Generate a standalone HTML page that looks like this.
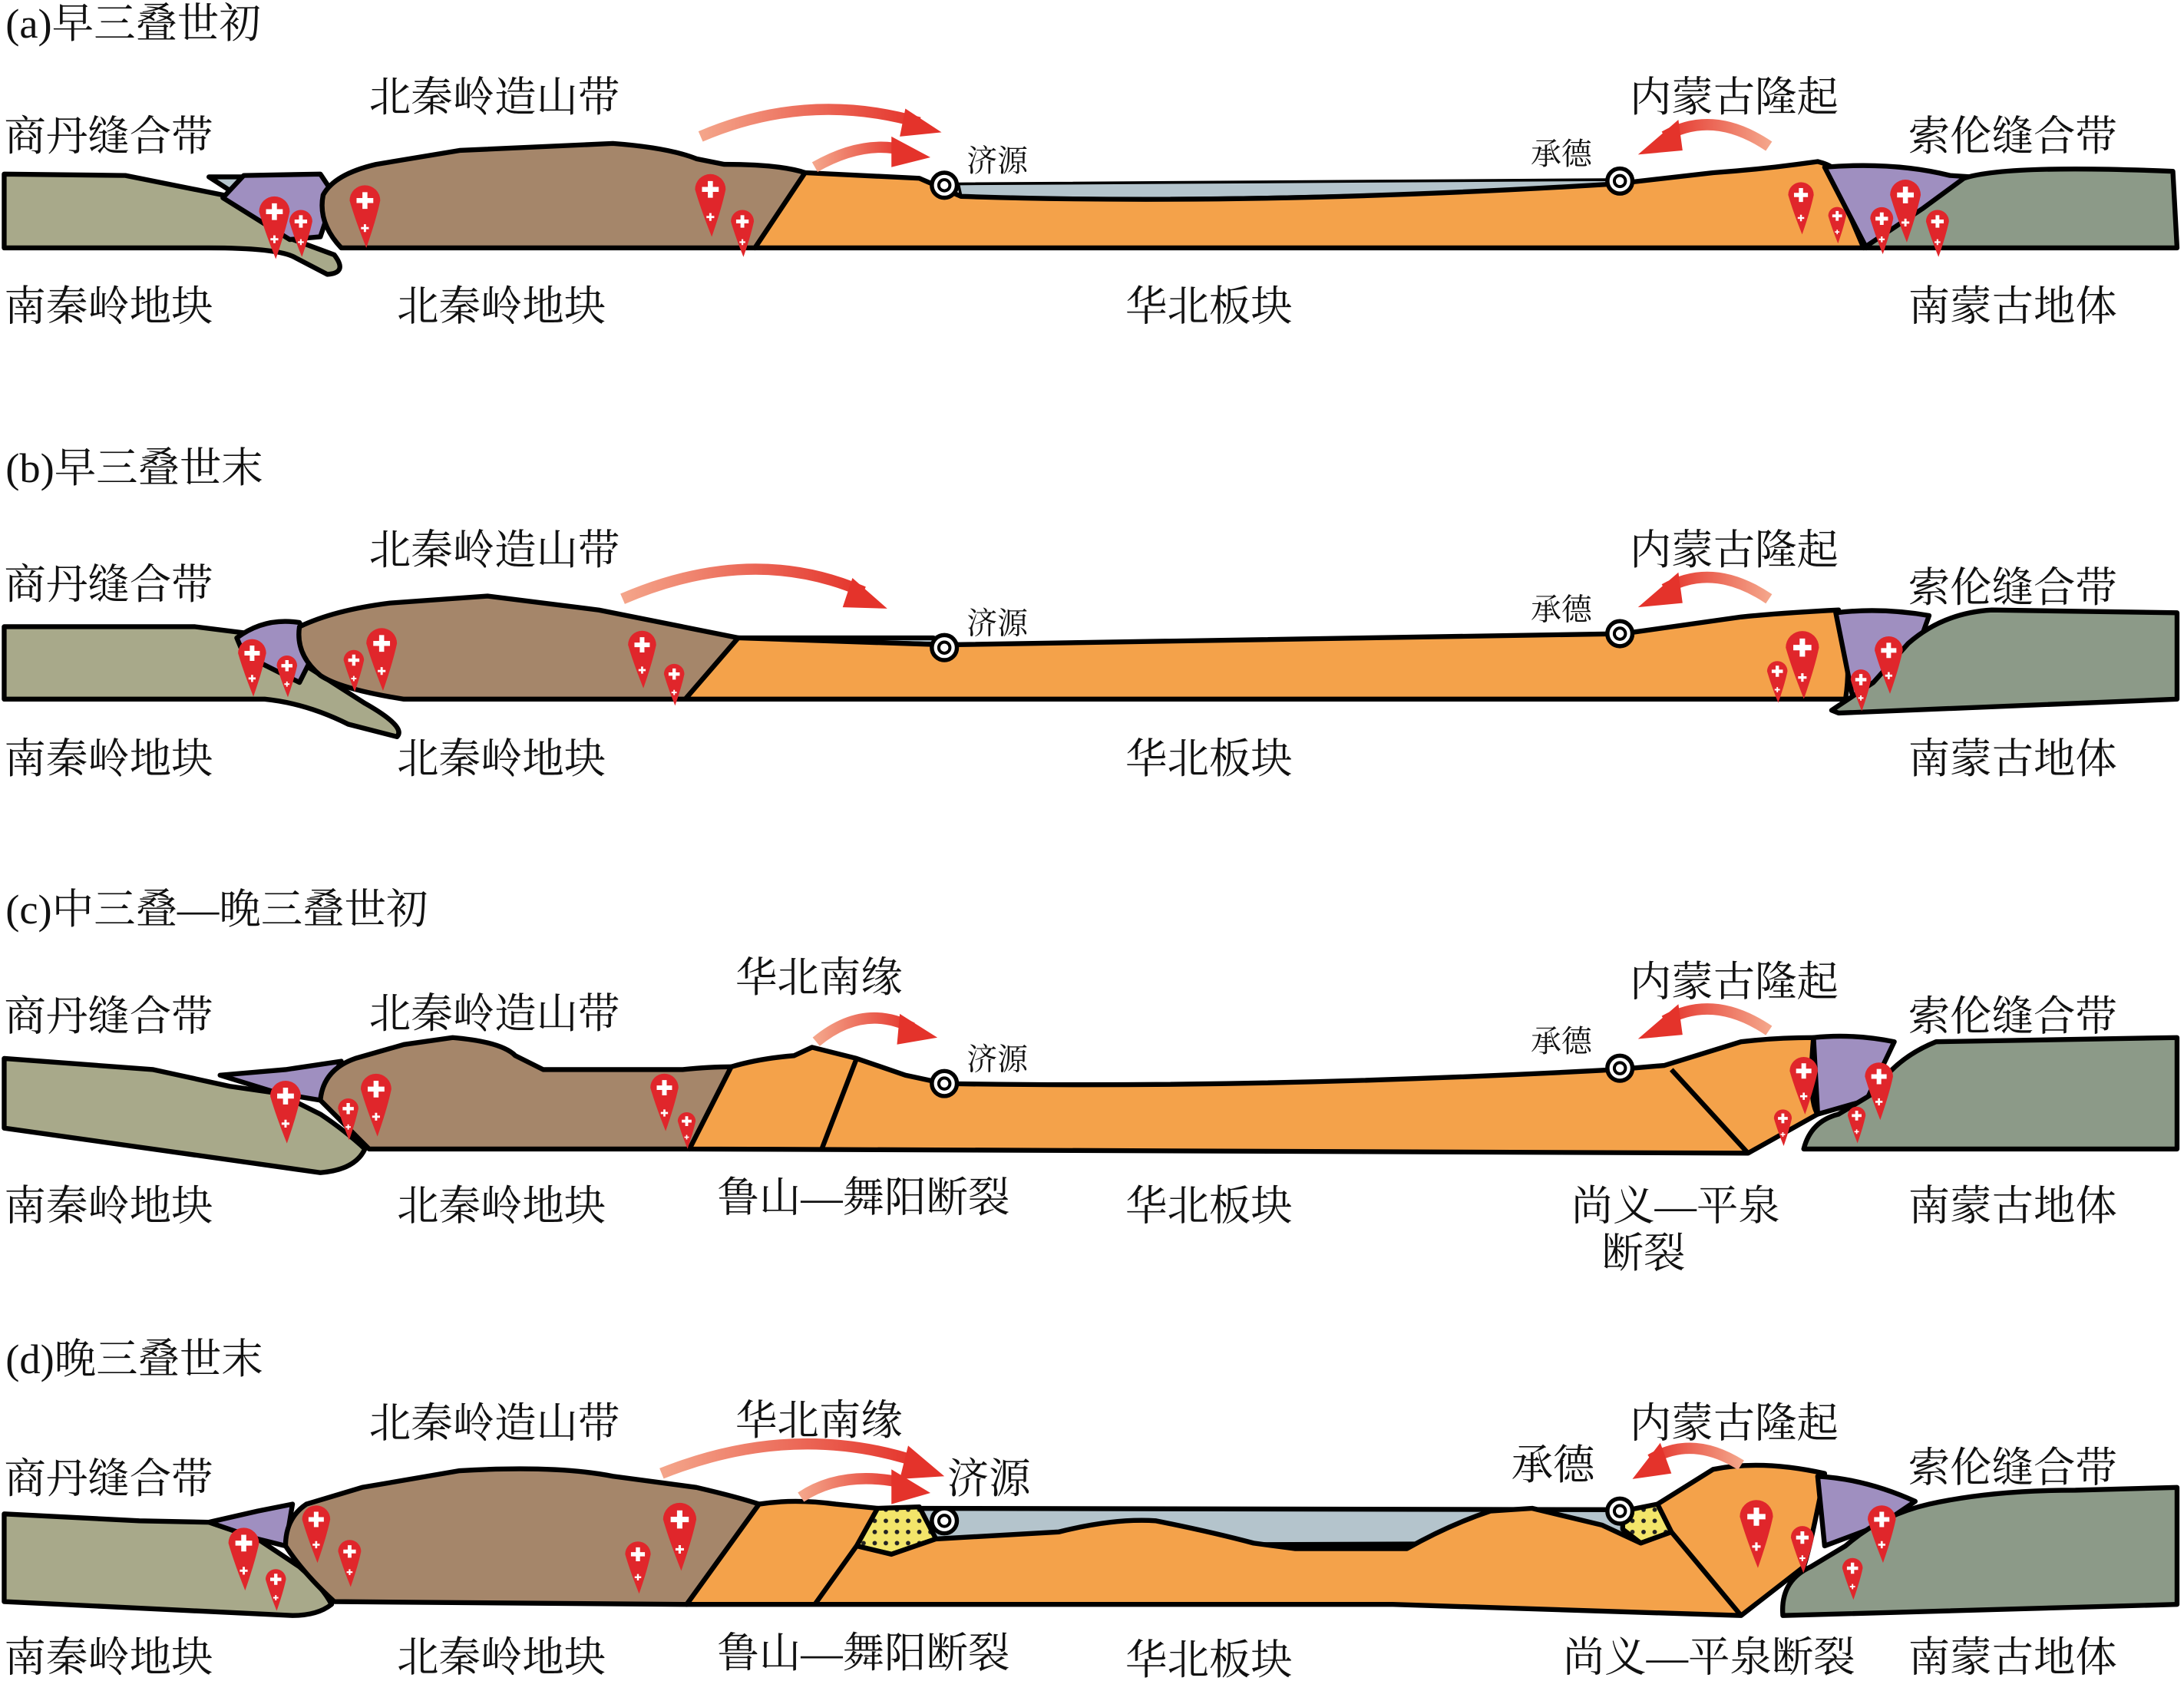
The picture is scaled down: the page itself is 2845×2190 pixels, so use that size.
<!DOCTYPE html>
<html><head><meta charset="utf-8"><style>
html,body{margin:0;padding:0;background:#fff}
svg{display:block}
text{font-family:"Liberation Serif","Noto Serif CJK SC","Noto Sans CJK SC",serif;fill:#111}
.L{font-size:30px}.S{font-size:22px}.T{font-size:30px}
.k{stroke:#000;stroke-width:3.5;stroke-linejoin:round}
</style></head><body>
<svg width="2845" height="2190" viewBox="0 0 1568 1207" preserveAspectRatio="none" xmlns="http://www.w3.org/2000/svg">
<defs>
<symbol id="dp" viewBox="-12 -12 24 48" overflow="visible">
<path d="M-11,0 A11,11 0 1 1 11,0 Q8,14 1,34 Q-7,14 -11,0Z" fill="#e0262b"/>
<path d="M-1.8,-6h3.6v4.2h4.2v3.6h-4.2v4.2h-3.6v-4.2h-4.2v-3.6h4.2z" fill="#fff"/>
<path d="M-0.8,17h1.6v2h2v1.6h-2v2h-1.6v-2h-2v-1.6h2z" fill="#fff"/>
</symbol>
<linearGradient id="ag" x1="0" x2="1"><stop offset="0" stop-color="#f4a58a"/><stop offset="1" stop-color="#e4332b"/></linearGradient>
<linearGradient id="agr" x1="1" x2="0"><stop offset="0" stop-color="#f4a58a"/><stop offset="1" stop-color="#e4332b"/></linearGradient>
<pattern id="yp" width="8" height="8" patternUnits="userSpaceOnUse"><rect width="8" height="8" fill="#f3e56a"/><circle cx="4" cy="4" r="1.6" fill="#222"/></pattern>
<g id="tgt"><circle r="9" fill="#fff" stroke="#000" stroke-width="3"/><circle r="4" fill="none" stroke="#000" stroke-width="2.2"/></g>
</defs>

<!-- ================= PANEL A ================= -->
<text x="4" y="27" class="T">(a)早三叠世初</text>
<path class="k" fill="#b4c4cc" d="M150,127 L180,127 L170,140 Z"/>
<path class="k" fill="#a8a98a" d="M3,125 L90,126 L170,142 L190,152 L205,170 L240,183 Q250,196 235,197 L212,185 Q200,178 150,178 L3,178 Z"/>
<path class="k" fill="#9f8fc0" d="M160,142 L175,126 L230,125 L240,140 L230,170 L208,172 Z"/>
<path class="k" fill="#a5866a" d="M232,140 Q240,125 270,118 L330,108 L440,103 Q480,106 500,114 L520,118 Q560,118 578,124 L542,178 L245,178 Q228,160 232,140Z"/>
<path fill="#b4c4cc" stroke="#000" stroke-width="2" d="M688,132 L1155,129 L1155,133 Q900,146 690,141 Z"/>
<path class="k" fill="#f4a24a" d="M578,124 L660,128 L690,141 Q900,148 1160,132 L1230,124 Q1260,122 1290,118 L1305,116 Q1320,120 1315,124 L1338,178 L542,178 Z"/>
<path class="k" fill="#9f8fc0" d="M1310,120 Q1360,116 1400,126 L1415,127 L1360,170 L1340,178 Z"/>
<path class="k" fill="#8c9a88" d="M1338,178 L1380,150 L1410,128 Q1440,118 1560,123 L1563,178 Z"/>
<use href="#tgt" x="678" y="133"/><use href="#tgt" x="1163" y="130"/>
<use href="#dp" x="185" y="140" width="24" height="48"/>
<use href="#dp" x="207" y="150" width="18" height="36"/>
<use href="#dp" x="250" y="132" width="24" height="48"/>
<use href="#dp" x="498" y="124" width="24" height="48"/>
<use href="#dp" x="524" y="150" width="18" height="36"/>
<use href="#dp" x="1283" y="130" width="20" height="40"/>
<use href="#dp" x="1312" y="148" width="14" height="28"/>
<use href="#dp" x="1356" y="128" width="24" height="48"/>
<use href="#dp" x="1342" y="148" width="18" height="36"/>
<use href="#dp" x="1382" y="150" width="18" height="36"/>
<path d="M503,98 Q580,65 660,88" fill="none" stroke="url(#ag)" stroke-width="8"/><path d="M650,78 L676,95 L646,98Z" fill="#e4332b"/>
<path d="M585,120 Q620,100 650,108" fill="none" stroke="url(#ag)" stroke-width="8"/><path d="M640,98 L668,113 L640,120Z" fill="#e4332b"/>
<path d="M1270,105 Q1230,78 1195,98" fill="none" stroke="url(#agr)" stroke-width="8"/><path d="M1205,86 L1176,111 L1208,108Z" fill="#e4332b"/>
<text x="3" y="108" class="L">商丹缝合带</text><text x="265" y="80" class="L">北秦岭造山带</text>
<text x="694" y="123" class="S">济源</text><text x="1099" y="118" class="S">承德</text>
<text x="1170" y="80" class="L">内蒙古隆起</text><text x="1370" y="108" class="L">索伦缝合带</text>
<text x="3" y="230" class="L">南秦岭地块</text><text x="285" y="230" class="L">北秦岭地块</text>
<text x="808" y="230" class="L">华北板块</text><text x="1370" y="230" class="L">南蒙古地体</text>

<!-- ================= PANEL B ================= -->
<text x="4" y="346" class="T">(b)早三叠世末</text>
<path class="k" fill="#a8a98a" d="M3,450 L140,450 L180,455 L215,475 L262,505 Q292,522 285,529 L250,520 Q220,505 190,502 L3,502 Z"/>
<path class="k" fill="#9f8fc0" d="M170,458 Q190,443 215,447 L225,470 L215,490 L175,470 Z"/>
<path class="k" fill="#a5866a" d="M215,450 Q240,438 280,433 L350,428 L430,438 Q490,450 530,458 L492,502 L290,502 Q245,495 230,485 Q212,470 215,450Z"/>
<path class="k" fill="#b4c4cc" d="M530,458 L670,458 L680,463 Z"/>
<path class="k" fill="#f4a24a" d="M530,458 L678,463 L1165,455 L1250,443 Q1280,440 1320,438 Q1330,470 1325,502 L492,502 Z"/>
<path class="k" fill="#9f8fc0" d="M1318,440 Q1350,436 1385,442 L1375,470 L1350,495 L1330,500 Z"/>
<path class="k" fill="#8c9a88" d="M1315,510 L1345,490 L1370,462 Q1395,440 1430,438 L1563,440 L1563,502 L1320,512 Z"/>
<use href="#tgt" x="678" y="465"/><use href="#tgt" x="1163" y="455"/>
<use href="#dp" x="170" y="458" width="22" height="44"/>
<use href="#dp" x="198" y="470" width="16" height="32"/>
<use href="#dp" x="262" y="450" width="24" height="48"/>
<use href="#dp" x="246" y="466" width="16" height="32"/>
<use href="#dp" x="450" y="452" width="22" height="44"/>
<use href="#dp" x="476" y="476" width="16" height="32"/>
<use href="#dp" x="1281" y="452" width="26" height="52"/>
<use href="#dp" x="1268" y="474" width="16" height="32"/>
<use href="#dp" x="1345" y="456" width="22" height="44"/>
<use href="#dp" x="1328" y="480" width="16" height="32"/>
<path d="M447,430 Q540,390 620,425" fill="none" stroke="url(#ag)" stroke-width="8"/><path d="M612,415 L637,437 L605,436Z" fill="#e4332b"/>
<path d="M1270,430 Q1230,403 1195,423" fill="none" stroke="url(#agr)" stroke-width="8"/><path d="M1205,411 L1176,436 L1208,433Z" fill="#e4332b"/>
<text x="3" y="430" class="L">商丹缝合带</text><text x="265" y="405" class="L">北秦岭造山带</text>
<text x="694" y="455" class="S">济源</text><text x="1099" y="445" class="S">承德</text>
<text x="1170" y="405" class="L">内蒙古隆起</text><text x="1370" y="432" class="L">索伦缝合带</text>
<text x="3" y="555" class="L">南秦岭地块</text><text x="285" y="555" class="L">北秦岭地块</text>
<text x="808" y="555" class="L">华北板块</text><text x="1370" y="555" class="L">南蒙古地体</text>

<!-- ================= PANEL C ================= -->
<text x="4" y="663" class="T">(c)中三叠—晚三叠世初</text>
<path class="k" fill="#a8a98a" d="M3,760 L110,768 L165,780 L200,785 L230,800 Q248,812 262,825 Q255,840 230,842 L3,810 Z"/>
<path class="k" fill="#9f8fc0" d="M158,772 L205,768 L245,762 L230,790 L200,785 Z"/>
<path class="k" fill="#a5866a" d="M230,790 Q232,768 255,760 L290,750 L325,745 Q360,748 370,758 L390,768 L490,768 Q510,766 525,766 L495,825 L265,825 Q245,805 230,790Z"/>
<path class="k" fill="#f4a24a" d="M525,766 Q545,760 570,758 L583,752 L615,760 L650,772 L678,778 Q900,782 1160,768 L1195,765 L1250,748 Q1275,745 1302,745 Q1298,790 1305,800 L1255,828 L495,825 Z"/>
<path class="k" fill="none" d="M615,760 L590,825 M1200,768 L1255,828"/>
<path class="k" fill="#9f8fc0" d="M1302,745 Q1330,742 1360,748 L1340,790 L1305,800 Z"/>
<path class="k" fill="#8c9a88" d="M1295,825 Q1300,805 1320,800 L1345,785 Q1360,760 1390,748 L1563,745 L1563,825 Z"/>
<use href="#tgt" x="678" y="778"/><use href="#tgt" x="1163" y="767"/>
<use href="#dp" x="193" y="775" width="24" height="48"/>
<use href="#dp" x="242" y="788" width="16" height="32"/>
<use href="#dp" x="258" y="770" width="24" height="48"/>
<use href="#dp" x="466" y="770" width="22" height="44"/>
<use href="#dp" x="486" y="798" width="14" height="28"/>
<use href="#dp" x="1284" y="758" width="22" height="44"/>
<use href="#dp" x="1273" y="796" width="14" height="28"/>
<use href="#dp" x="1338" y="762" width="22" height="44"/>
<use href="#dp" x="1326" y="794" width="14" height="28"/>
<path d="M586,748 Q620,720 655,738" fill="none" stroke="url(#ag)" stroke-width="8"/><path d="M646,728 L673,745 L644,750Z" fill="#e4332b"/>
<path d="M1270,740 Q1230,713 1195,733" fill="none" stroke="url(#agr)" stroke-width="8"/><path d="M1205,721 L1176,746 L1208,743Z" fill="#e4332b"/>
<text x="3" y="740" class="L">商丹缝合带</text><text x="265" y="738" class="L">北秦岭造山带</text>
<text x="528" y="712" class="L">华北南缘</text>
<text x="694" y="768" class="S">济源</text><text x="1099" y="755" class="S">承德</text>
<text x="1170" y="715" class="L">内蒙古隆起</text><text x="1370" y="740" class="L">索伦缝合带</text>
<text x="3" y="876" class="L">南秦岭地块</text><text x="285" y="876" class="L">北秦岭地块</text>
<text x="515" y="870" class="L">鲁山—舞阳断裂</text>
<text x="808" y="876" class="L">华北板块</text><text x="1128" y="876" class="L">尚义—平泉</text><text x="1150" y="910" class="L">断裂</text>
<text x="1370" y="876" class="L">南蒙古地体</text>

<!-- ================= PANEL D ================= -->
<text x="4" y="986" class="T">(d)晚三叠世末</text>
<path class="k" fill="#a8a98a" d="M3,1087 L100,1092 L150,1093 L185,1105 L215,1125 Q232,1140 238,1152 Q228,1160 210,1160 L3,1150 Z"/>
<path class="k" fill="#9f8fc0" d="M150,1093 L185,1085 L210,1080 L205,1110 L185,1105 Z"/>
<path class="k" fill="#a5866a" d="M205,1110 Q205,1090 220,1080 L260,1068 L330,1056 Q400,1052 440,1060 L500,1068 Q530,1075 545,1080 L493,1152 L240,1150 Q218,1130 205,1110Z"/>
<path class="k" fill="#b4c4cc" d="M660,1083 L1168,1084 L1180,1108 L672,1110 Z"/>
<path class="k" fill="url(#yp)" d="M630,1083 L660,1082 L672,1105 L640,1116 L615,1110 Z"/>
<path class="k" fill="url(#yp)" d="M1165,1085 L1190,1080 L1200,1100 L1178,1108 L1165,1098 Z"/>
<path class="k" fill="#f4a24a" d="M545,1080 Q570,1076 600,1080 L630,1083 L615,1110 L640,1116 L672,1105 L760,1100 Q800,1090 830,1092 Q870,1100 900,1108 L930,1112 L1010,1112 Q1040,1095 1070,1085 L1100,1083 L1150,1095 L1178,1108 L1200,1100 L1190,1080 L1230,1055 Q1265,1048 1310,1058 Q1300,1110 1295,1125 L1250,1160 L1000,1152 L493,1152 Z"/>
<path class="k" fill="none" d="M615,1110 L585,1152 M1200,1100 L1250,1160"/>
<path class="k" fill="#9f8fc0" d="M1305,1060 Q1340,1062 1375,1078 L1350,1095 L1310,1110 Z"/>
<path class="k" fill="#8c9a88" d="M1280,1160 Q1278,1135 1300,1125 L1325,1110 Q1350,1088 1385,1080 Q1430,1070 1490,1070 L1563,1068 L1563,1152 Z"/>
<use href="#tgt" x="678" y="1092"/><use href="#tgt" x="1163" y="1085"/>
<use href="#dp" x="163" y="1096" width="24" height="48"/>
<use href="#dp" x="190" y="1126" width="16" height="32"/>
<use href="#dp" x="216" y="1080" width="22" height="44"/>
<use href="#dp" x="242" y="1105" width="18" height="36"/>
<use href="#dp" x="475" y="1078" width="26" height="52"/>
<use href="#dp" x="448" y="1106" width="20" height="40"/>
<use href="#dp" x="1248" y="1076" width="26" height="52"/>
<use href="#dp" x="1285" y="1095" width="18" height="36"/>
<use href="#dp" x="1340" y="1080" width="22" height="44"/>
<use href="#dp" x="1322" y="1118" width="16" height="32"/>
<path d="M475,1058 Q570,1020 660,1050" fill="none" stroke="url(#ag)" stroke-width="8"/><path d="M652,1038 L678,1060 L646,1062Z" fill="#e4332b"/>
<path d="M575,1075 Q605,1055 650,1065" fill="none" stroke="url(#ag)" stroke-width="8"/><path d="M640,1055 L668,1072 L640,1080Z" fill="#e4332b"/>
<path d="M1250,1052 Q1215,1030 1185,1048" fill="none" stroke="url(#agr)" stroke-width="8"/><path d="M1192,1036 L1172,1062 L1200,1058Z" fill="#e4332b"/>
<text x="3" y="1072" class="L">商丹缝合带</text><text x="265" y="1032" class="L">北秦岭造山带</text>
<text x="528" y="1030" class="L">华北南缘</text>
<text x="680" y="1072" class="L">济源</text><text x="1085" y="1062" class="L">承德</text>
<text x="1170" y="1032" class="L">内蒙古隆起</text><text x="1370" y="1064" class="L">索伦缝合带</text>
<text x="3" y="1200" class="L">南秦岭地块</text><text x="285" y="1200" class="L">北秦岭地块</text>
<text x="515" y="1197" class="L">鲁山—舞阳断裂</text>
<text x="808" y="1202" class="L">华北板块</text><text x="1122" y="1200" class="L">尚义—平泉断裂</text>
<text x="1370" y="1200" class="L">南蒙古地体</text>
</svg>
</body></html>
